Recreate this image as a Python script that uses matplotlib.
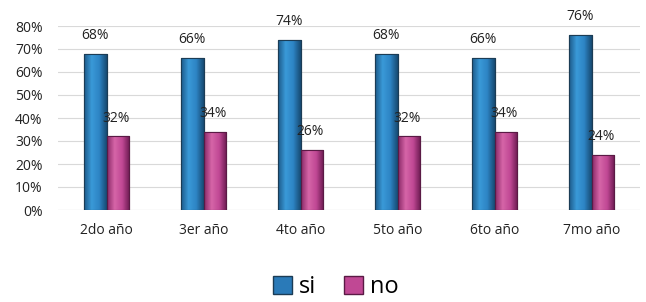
import matplotlib
matplotlib.use("Agg")
import matplotlib.pyplot as plt
import numpy as np
from matplotlib.patches import Patch

categories = ["2do año", "3er año", "4to año", "5to año", "6to año", "7mo año"]
si = [68, 66, 74, 68, 66, 76]
no = [32, 34, 26, 32, 34, 24]
yticks = [0, 10, 20, 30, 40, 50, 60, 70, 80]

plt.rcParams['font.family'] = ['Open Sans', 'DejaVu Sans']

fig = plt.figure(figsize=(6.46, 3.02), dpi=100)
ax = fig.add_axes([58/646, 1 - 210/302, 582/646, 184/302])

x = np.arange(len(categories))
w = 0.237
b1 = ax.bar(x - w/2, si, w, color="#2a7ab8", edgecolor="#1b3c55", linewidth=0.8, zorder=3)
b2 = ax.bar(x + w/2, no, w, color="#c04894", edgecolor="#5a1a45", linewidth=0.8, zorder=3)

def shade(bars, cmapcols):
    from matplotlib.colors import LinearSegmentedColormap
    cmap = LinearSegmentedColormap.from_list("g", cmapcols)
    grad = np.linspace(0, 1, 64).reshape(1, -1)
    for b in bars:
        x0, y0 = b.get_x(), b.get_y()
        im = ax.imshow(grad, extent=(x0, x0 + b.get_width(), y0, y0 + b.get_height()),
                       aspect='auto', cmap=cmap, zorder=3.5)
        im.set_clip_path(b)
        ax.add_patch(plt.Rectangle((x0, y0), b.get_width(), b.get_height(),
                                   fill=False, edgecolor=b.get_edgecolor(), linewidth=0.8, zorder=4))

shade(b1, ["#1c5a8a", "#3a9ad8", "#2d84c4", "#174a72"])
shade(b2, ["#8a2a68", "#d665a8", "#c04894", "#6a1a50"])

for xi, v in zip(x, si):
    ax.text(xi - w/2, v + 8, f"{v}%", ha="center", va="center", fontsize=10, color="#222222", zorder=5)
for xi, v in zip(x, no):
    ax.text(xi + w/2 - 0.02, v + 8, f"{v}%", ha="center", va="center", fontsize=10, color="#222222", zorder=5)

ax.set_xlim(-0.5, len(categories) - 0.5)
ax.set_ylim(0, 80)
ax.set_yticks(yticks)
ax.set_yticklabels([f"{t}%" for t in yticks], fontsize=10, color="#222222")
ax.set_xticks(x)
ax.set_xticklabels(categories, fontsize=10, color="#222222")
ax.tick_params(axis='both', length=0)
ax.tick_params(axis='x', pad=9)
ax.tick_params(axis='y', pad=11)
ax.grid(axis='y', color="#d9d9d9", linewidth=0.8, zorder=0)
for s in ax.spines.values():
    s.set_visible(False)
ax.axhline(0, color="#d9d9d9", linewidth=0.8, zorder=1)

handles = [Patch(facecolor="#2a7ab8", edgecolor="#1b3c55"), Patch(facecolor="#c04894", edgecolor="#5a1a45")]
fig.legend(handles, ["si", "no"], loc="center", bbox_to_anchor=(0.52, 1 - 287/302), ncol=2,
           frameon=False, fontsize=17, handlelength=0.8, handleheight=0.8, handletextpad=0.3,
           columnspacing=1.2)

fig.savefig("out.png", dpi=100)
